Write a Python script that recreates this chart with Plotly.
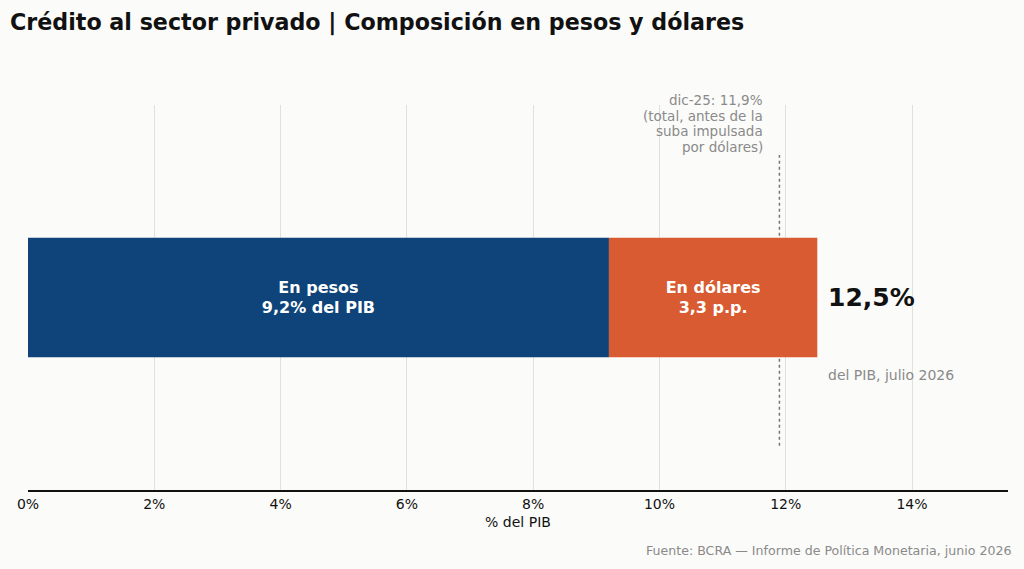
import plotly.graph_objects as go

# datos (% del PIB)
categoria = ["Crédito"]
pesos = [9.2]
dolares = [3.3]
total = 12.5
dic25 = 11.9
xticks = [0, 2, 4, 6, 8, 10, 12, 14]
xtick_labels = ["0%", "2%", "4%", "6%", "8%", "10%", "12%", "14%"]
nota_dic25 = ["dic-25: 11,9%", "(total, antes de la", "suba impulsada", "por dólares)"]

navy = "#0E4479"
orange = "#D95B31"
grey = "#8a8a8a"
bg = "#FBFBF9"

fig = go.Figure()
fig.add_trace(go.Bar(
    x=pesos, y=[0], base=[0], orientation="h", width=0.62,
    marker=dict(color=navy, line=dict(width=0)),
    text=["<b>En pesos<br>9,2% del PIB</b>"], textposition="inside",
    insidetextanchor="middle", textfont=dict(color="white", size=16),
    hoverinfo="skip", showlegend=False,
))
fig.add_trace(go.Bar(
    x=dolares, y=[0], base=pesos, orientation="h", width=0.62,
    marker=dict(color=orange, line=dict(width=0)),
    text=["<b>En dólares<br>3,3 p.p.</b>"], textposition="inside",
    insidetextanchor="middle", textfont=dict(color="white", size=16),
    hoverinfo="skip", showlegend=False,
))

# línea de referencia dic-25
fig.add_shape(type="line", x0=dic25, x1=dic25, y0=-0.77, y1=0.74,
              line=dict(color="#777777", width=1.5, dash="dot"), layer="below")

# nota en líneas separadas para un interlineado más ajustado
for i, linea in enumerate(nota_dic25):
    fig.add_annotation(x=dic25, y=1.0, xref="x", yref="y", xshift=-14,
                       yshift=5 - i * 15.5, text=linea,
                       showarrow=False, xanchor="right", yanchor="middle",
                       font=dict(size=13.5, color=grey))

fig.add_annotation(x=total, y=0, xref="x", yref="y", xshift=9,
                   text="<b>12,5%</b>", showarrow=False, xanchor="left",
                   yanchor="middle", font=dict(size=25, color="#111111"))
fig.add_annotation(x=total, y=-0.4, xref="x", yref="y", xshift=9,
                   text="del PIB, julio 2026", showarrow=False, xanchor="left",
                   yanchor="middle", font=dict(size=14, color=grey))

fig.add_annotation(x=1, y=-0.158, xref="paper", yref="paper", xanchor="right",
                   yanchor="middle", xshift=5,
                   text="Fuente: BCRA — Informe de Política Monetaria, junio 2026",
                   showarrow=False, font=dict(size=12.6, color=grey))

fig.update_layout(
    width=1024, height=569,
    margin=dict(l=28, r=16, t=105, b=79),
    paper_bgcolor=bg, plot_bgcolor=bg,
    font=dict(family="DejaVu Sans", color="#111111"),
    title=dict(text="<b>Crédito al sector privado | Composición en pesos y dólares</b>",
               xref="container", yref="container", x=0.0098, xanchor="left",
               y=1 - 22 / 569, yanchor="middle",
               font=dict(size=22.2, color="#111111")),
    barmode="overlay",
    xaxis=dict(range=[0, 15.52], tickvals=xticks, ticktext=xtick_labels,
               showgrid=True, gridcolor="#e0e0dc", gridwidth=1,
               zeroline=False, showline=True, linecolor="#111111", linewidth=2,
               tickfont=dict(size=14), ticks="",
               title=dict(text="% del PIB", font=dict(size=14), standoff=6)),
    yaxis=dict(range=[-1, 1], showticklabels=False, showgrid=False,
               zeroline=False, showline=False),
)

fig.write_html("out.html", config={"displayModeBar": False},
               post_script="document.body.style.margin='0';"
                           "document.body.style.background='#FBFBF9';")
